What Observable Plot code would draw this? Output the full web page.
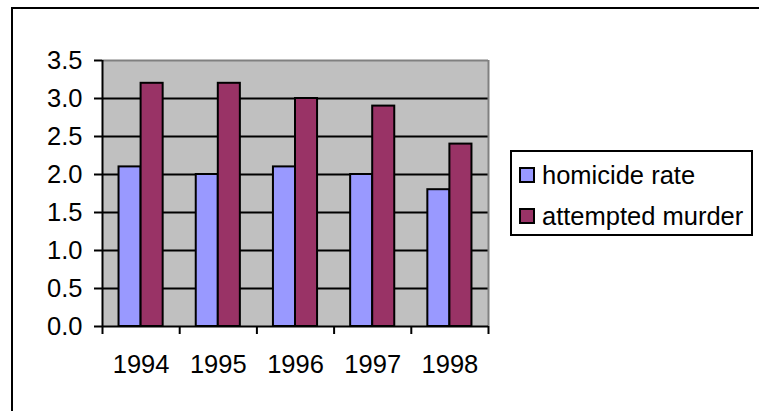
<!DOCTYPE html>
<html>
<head>
<meta charset="utf-8">
<script src="https://cdn.jsdelivr.net/npm/d3@7"></script>
<script src="https://cdn.jsdelivr.net/npm/@observablehq/plot@0.6"></script>
<style>
  html, body { margin: 0; padding: 0; background: white; }
  #wrap { position: relative; width: 759px; height: 411px; overflow: hidden; font-family: "Liberation Sans", Arial, sans-serif; }
  #border { position: absolute; left: 11px; top: 7px; right: -10px; bottom: -10px; border-top: 2px solid black; border-left: 2px solid black; }
  #chart { position: absolute; left: 0; top: 0; }
  #legend { position: absolute; left: 510px; top: 150px; width: 243px; height: 86px; box-sizing: border-box; border: 2px solid black; background: white; }
  .row { position: absolute; left: 7px; height: 16px; display: flex; align-items: center; font-size: 25.5px; white-space: nowrap; color: black; }
  .sw { width: 16px; height: 16px; box-sizing: border-box; border: 2px solid black; margin-right: 7px; flex: none; }
</style>
</head>
<body>
<div id="wrap">
  <div id="border"></div>
  <div id="chart"></div>
  <div id="legend"></div>
</div>
<script>
const years = ["1994", "1995", "1996", "1997", "1998"];
const seriesNames = ["homicide rate", "attempted murder"];
const homicideRate = [2.1, 2.0, 2.1, 2.0, 1.8];
const attemptedMurder = [3.2, 3.2, 3.0, 2.9, 2.4];
const yTicks = [0, 0.5, 1.0, 1.5, 2.0, 2.5, 3.0, 3.5];
const colors = ["#9999FF", "#993366"];

const seriesValues = [homicideRate, attemptedMurder];
const data = years.flatMap((year, i) =>
  seriesNames.map((s, k) => ({ year, i, k, series: s, value: seriesValues[k][i] }))
);

// Excel-like clustered layout: gap width 150% of a bar
const barW = 1 / (seriesNames.length + 1.5);
const x1 = d => d.i + 0.75 * barW + d.k * barW;
const x2 = d => x1(d) + barW;

const chart = Plot.plot({
  width: 759,
  height: 411,
  marginLeft: 102,
  marginRight: 271,
  marginTop: 60,
  marginBottom: 85,
  x: { domain: [0, years.length] },
  y: { domain: [0, 3.5] },
  color: { domain: seriesNames, range: colors },
  style: { fontFamily: "'Liberation Sans', Arial, sans-serif", fontSize: "25.5px", color: "black", background: "transparent" },
  marks: [
    Plot.frame({ fill: "#C0C0C0", stroke: "none" }),
    Plot.ruleY(yTicks.filter(t => t > 0 && t < 3.5), { stroke: "black", strokeWidth: 2 }),
    Plot.ruleY([3.5], { stroke: "#808080", strokeWidth: 2 }),
    Plot.ruleX([years.length], { stroke: "#808080", strokeWidth: 2 }),
    Plot.rectY(data, { x1, x2, y: "value", fill: "series", stroke: "black", strokeWidth: 2 }),
    Plot.ruleX([0], { stroke: "black", strokeWidth: 2 }),
    Plot.ruleY([0], { stroke: "black", strokeWidth: 2 }),
    Plot.axisY({ ticks: yTicks, tickFormat: d3.format(".1f"), tickSize: 8, tickPadding: 12, strokeWidth: 2, label: null, fontSize: 25.5 }),
    Plot.axisX({ ticks: d3.range(years.length + 1), tickFormat: () => "", tickSize: 8, strokeWidth: 2, label: null }),
    Plot.axisX({ ticks: years.map((_, i) => i + 0.5), tickFormat: t => years[Math.floor(t)], tickSize: 0, tickPadding: 28, label: null, fontSize: 25.5 })
  ]
});
document.getElementById("chart").appendChild(chart);

const legend = document.getElementById("legend");
seriesNames.forEach((s, k) => {
  const row = document.createElement("div");
  row.className = "row";
  row.style.top = (15 + k * 41) + "px";
  const sw = document.createElement("div");
  sw.className = "sw";
  sw.style.background = colors[k];
  const t = document.createElement("span");
  t.textContent = s;
  row.appendChild(sw);
  row.appendChild(t);
  legend.appendChild(row);
});
</script>
</body>
</html>
